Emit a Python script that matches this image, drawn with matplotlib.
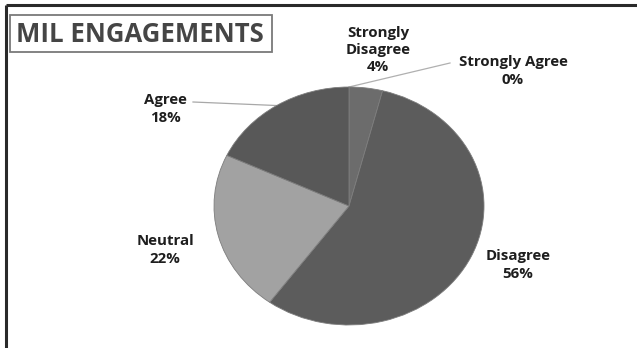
import numpy as np
import matplotlib
matplotlib.use("Agg")
import matplotlib.pyplot as plt
from matplotlib.patches import Rectangle

plt.rcParams['font.family'] = ['Open Sans', 'DejaVu Sans']

# survey responses, clockwise from 12 o'clock
categories = ['Strongly Agree', 'Strongly Disagree', 'Disagree', 'Neutral', 'Agree']
shares = [0, 4, 56, 22, 18]
slice_colors = ['#6e6e6e', '#6c6c6c', '#5c5c5c', '#a2a2a2', '#585858']

title = 'MIL ENGAGEMENTS'

W, H = 637, 348
fig = plt.figure(figsize=(W / 100, H / 100), dpi=100)

# overlay axes in pixel units for frame, title and labels
bg = fig.add_axes([0, 0, 1, 1])
bg.set_xlim(0, W)
bg.set_ylim(H, 0)
bg.axis('off')

# pie axes: squashed a little, so aspect is left free
left, top, right, bottom = 214, 87, 484, 325
pie_ax = fig.add_axes([left / W, 1 - bottom / H, (right - left) / W, (bottom - top) / H])
wedges, _ = pie_ax.pie(shares, colors=slice_colors, startangle=90, counterclock=False,
                       wedgeprops=dict(edgecolor='#7d7d7d', linewidth=0.6))
pie_ax.set_aspect('auto')
pie_ax.set_xlim(-1, 1)
pie_ax.set_ylim(-1, 1)


def rim_point(w):
    # point on the rim at the middle of a wedge, in overlay pixel coords
    ang = np.deg2rad((w.theta1 + w.theta2) / 2)
    disp = pie_ax.transData.transform((np.cos(ang), np.sin(ang)))
    return bg.transData.inverted().transform(disp)


# outer frame (top and left edges only)
bg.plot([5.5, W], [4.5, 4.5], color='#2a2a2a', lw=2.2, solid_capstyle='butt')
bg.plot([5.5, 5.5], [4.5, H], color='#2a2a2a', lw=2.2, solid_capstyle='butt')

# title box
bg.add_patch(Rectangle((10, 15), 262, 37, fill=False, edgecolor='#7a7a7a', lw=1.3))
bg.text(140, 34, title, ha='center', va='center', fontsize=18.5,
        fontweight='bold', color='#454545')

label_pos = {
    'Strongly Agree': (513, 71),
    'Strongly Disagree': (378, 50),
    'Disagree': (518, 265),
    'Neutral': (165, 250),
    'Agree': (165, 109),
}

for name, val, w in zip(categories, shares, wedges):
    x, y = label_pos[name]
    txt = name.replace(' ', '\n') if name == 'Strongly Disagree' else name
    bg.text(x, y, f'{txt}\n{val}%', ha='center', va='center', fontsize=10.8,
            fontweight='bold', color='#1e1e1e', linespacing=1.3)

# leader lines
ax_, ay_ = rim_point(wedges[categories.index('Agree')])
bg.plot([193, ax_], [102, ay_], color='#a8a8a8', lw=0.9)
sx, sy = rim_point(wedges[categories.index('Strongly Agree')])
bg.plot([450, sx], [63, sy], color='#b0b0b0', lw=0.9)

fig.savefig('out.png', dpi=100)
